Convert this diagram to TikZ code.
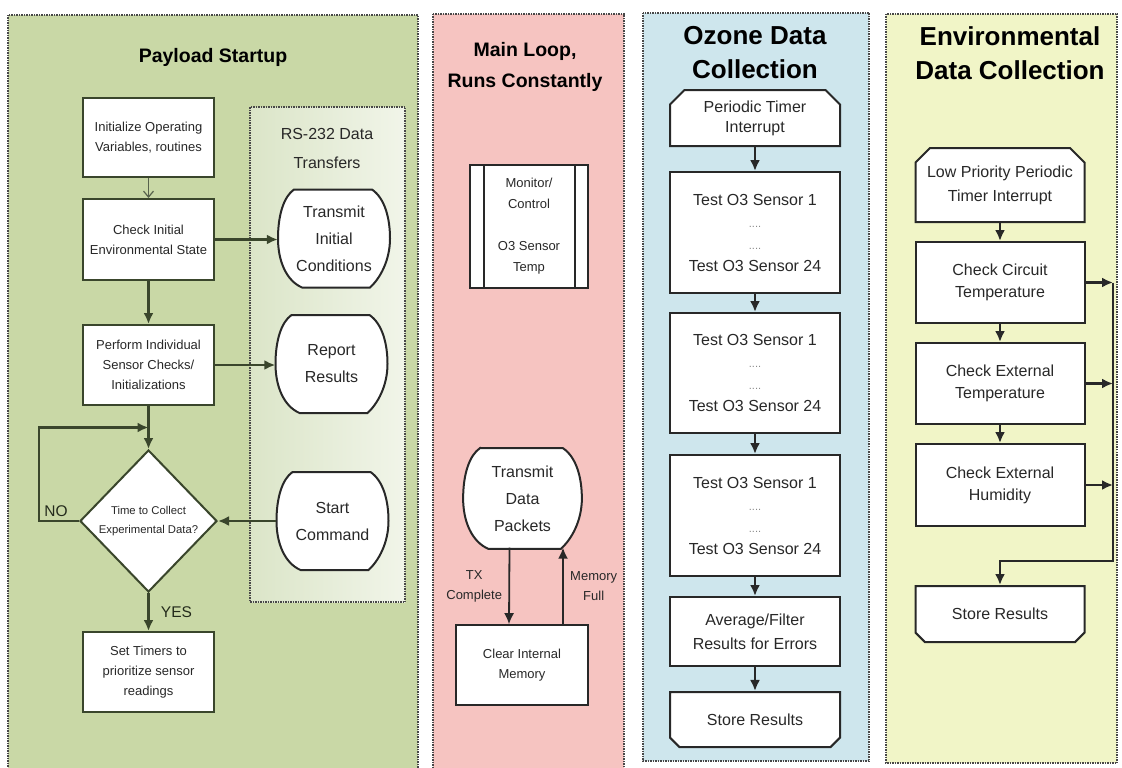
\documentclass[tikz,border=0pt]{standalone}
\usepackage{fontspec}
\setmainfont{Liberation Sans}
\usepackage{xcolor}
\usetikzlibrary{arrows.meta, shapes.geometric, shapes.misc, calc}

\definecolor{panelgreen}{RGB}{201,216,166}
\definecolor{panelpink}{RGB}{246,196,193}
\definecolor{panelblue}{RGB}{206,230,237}
\definecolor{panelyellow}{RGB}{241,245,199}
\definecolor{rsleft}{RGB}{219,229,200}
\definecolor{rsright}{RGB}{241,245,233}
\definecolor{olive}{RGB}{58,70,44}
\definecolor{ink}{RGB}{40,40,40}

\newcommand{\dotsrow}{{\fontsize{11}{22}\selectfont\color{ink!55}....}}

\tikzset{
    panel/.style={draw=ink!85, line width=1.3pt, dash pattern=on 1.5pt off 1pt},
    title/.style={align=center, text=black, font=\bfseries\fontsize{19.5}{31}\selectfont},
    bigtitle/.style={align=center, text=black, font=\bfseries\fontsize{26}{34}\selectfont},
    box/.style={draw=ink, line width=2pt, fill=white, align=center, inner sep=0pt, text=ink},
    greenbox/.style={box, draw=olive, minimum width=131pt, minimum height=80pt, font=\fontsize{13}{20}\selectfont},
    bluebox/.style={box, minimum width=170pt, font=\fontsize{16}{22}\selectfont},
    yellowbox/.style={box, minimum width=169pt, font=\fontsize{16}{22}\selectfont},
    toptrim/.style={chamfered rectangle, chamfered rectangle corners={north west,north east}, chamfered rectangle xsep=11pt},
    bottomtrim/.style={chamfered rectangle, chamfered rectangle corners={south west,south east}, chamfered rectangle xsep=11pt},
    disptext/.style={minimum width=112pt, minimum height=98pt, inner sep=0pt, align=center, text=ink, font=\fontsize{16}{27}\selectfont},
    arr/.style={draw=ink, line width=2.2pt, ->},
    greenarr/.style={arr, draw=olive},
    lbl/.style={text=ink, align=center, font=\fontsize{13}{20}\selectfont},
    pics/dispshape/.style={code={
        \draw[line width=2pt, draw=ink, fill=white] (-40,-49) -- (38,-49)
            .. controls (51,-40) and (56,-20) .. (56,0)
            .. controls (56,22) and (46,40) .. (36,49) -- (-32,49)
            .. controls (-48,42) and (-56,22) .. (-56,0)
            .. controls (-56,-24) and (-50,-42) .. cycle;
        \node[disptext] (-n) at (0,0) {#1};
    }}
}

\begin{document}
\begin{tikzpicture}[x=1pt, y=-1pt, >={Latex[length=11pt,width=10pt]}]
    \useasboundingbox (0,0) rectangle (1122,768);
    \clip (0,0) rectangle (1122,768);
    \fill[white] (0,0) rectangle (1122,768);

    % Panels
    \draw[panel, fill=panelgreen] (8,15) rectangle (418,790);
    \draw[panel, fill=panelpink] (433,14) rectangle (624,790);
    \draw[panel, fill=panelblue] (643,13) rectangle (869,761);
    \draw[panel, fill=panelyellow] (886,14) rectangle (1117,763);
    \draw[panel, left color=rsleft, right color=rsright] (250,107) rectangle (405,602);

    % Titles
    \node[title] (ps) at (213,57) {Payload Startup};
    \node[align=center, text=ink, font=\fontsize{16}{29}\selectfont] (rs) at (327,148) {RS-232 Data\\Transfers};
    \node[title] (ml) at (525,67) {Main Loop,\\Runs Constantly};
    \node[bigtitle] (oz) at (755,53) {Ozone Data\\Collection};
    \node[bigtitle] (en) at (1010,53) {Environmental\\Data Collection};

    % Payload startup
    \node[greenbox, minimum height=79pt] (init) at (148.5,137.5) {Initialize Operating\\Variables, routines};
    \node[greenbox, minimum height=81pt] (check) at (148.5,239.5) {Check Initial\\Environmental State};
    \node[greenbox] (perform) at (148.5,365) {Perform Individual\\Sensor Checks/\\Initializations};
    \node[diamond, box, draw=olive, aspect=1, minimum width=137pt, minimum height=142pt,
        font=\fontsize{11.3}{19}\selectfont] (dia) at (148.5,521) {Time to Collect\\Experimental Data?};
    \node[greenbox] (set) at (148.5,672) {Set Timers to\\prioritize sensor\\readings};

    \pic (tic) at (334,238.5) {dispshape={Transmit\\Initial\\Conditions}};
    \pic (rr) at (331.5,364) {dispshape={Report\\Results}};
    \pic (sc) at (332.5,521) {dispshape={Start\\Command}};

    \coordinate (noin) at ($(perform.south)!0.5!(dia.north)$);
    \draw[olive!85, line width=1.2pt, -{Straight Barb[length=6pt,width=10pt]}] (init) -- (check);
    \draw[greenarr] (check) -- (perform);
    \draw[greenarr] (perform) -- (dia);
    \draw[greenarr] (check.east) -- (check.east -| tic-n.west);
    \draw[greenarr] (perform.east) -- (perform.east -| rr-n.west);
    \draw[greenarr] (sc-n.west) -- (sc-n.west -| dia.east);
    \draw[greenarr] (dia.west) -- node[above, xshift=-3pt, lbl, text=olive!60!black, font=\fontsize{15.5}{18}\selectfont] {NO} ++(-40,0) |- (noin);
    \draw[greenarr] (dia) -- node[right=8pt, lbl, text=olive!60!black, font=\fontsize{15.5}{18}\selectfont] {YES} (set);

    % Main loop
    \node[box, line width=1.6pt, minimum width=118pt, minimum height=123pt, font=\fontsize{13}{21}\selectfont] (mon) at (529,226.5)
        {Monitor/\\Control\\[21pt]O3 Sensor\\Temp};
    \draw[ink, line width=1.6pt] ([xshift=15pt]mon.north west) -- ([xshift=15pt]mon.south west);
    \draw[ink, line width=1.6pt] ([xshift=-14pt]mon.north east) -- ([xshift=-14pt]mon.south east);

    \pic[xscale=1.06, yscale=1.03] (tdp) at (522.5,498.5) {dispshape={Transmit\\Data\\Packets}};
    \node[box, line width=1.6pt, minimum width=132pt, minimum height=80pt, font=\fontsize{13}{20}\selectfont] (clr) at (522,665) {Clear Internal\\Memory};

    \draw[arr, line width=1.8pt] ([xshift=-13pt]tdp-n.south) -- node[left=3pt, lbl] {TX\\Complete} ([xshift=-13pt]clr.north);
    \draw[arr, line width=1.8pt] ([xshift=41pt]clr.north) -- node[right=3pt, lbl] {Memory\\Full} ([xshift=41pt]clr.north |- tdp-n.south);

    % Ozone data collection
    \node[bluebox, toptrim, minimum height=56pt, font=\fontsize{16}{20}\selectfont] (ptimer) at (755,118) {Periodic Timer\\Interrupt};
    \node[bluebox, minimum height=121pt] (t1) at (755,232.5) {Test O3 Sensor 1\\\dotsrow\\\dotsrow\\Test O3 Sensor 24};
    \node[bluebox, minimum height=120pt] (t2) at (755,373) {Test O3 Sensor 1\\\dotsrow\\\dotsrow\\Test O3 Sensor 24};
    \node[bluebox, minimum height=121pt] (t3) at (755,515.5) {Test O3 Sensor 1\\\dotsrow\\\dotsrow\\Test O3 Sensor 24};
    \node[bluebox, minimum height=69pt, font=\fontsize{16}{24}\selectfont] (avg) at (755,631.5) {Average/Filter\\Results for Errors};
    \node[bluebox, bottomtrim, minimum height=55pt] (store) at (755,719.5) {Store Results};
    \foreach \a/\b in {ptimer/t1, t1/t2, t2/t3, t3/avg, avg/store}
        \draw[arr] (\a) -- (\b);

    % Environmental data collection
    \node[yellowbox, toptrim, minimum height=74pt, font=\fontsize{16}{24}\selectfont] (lowp) at (1000,185) {Low Priority Periodic\\Timer Interrupt};
    \node[yellowbox, minimum height=81pt] (circ) at (1000,282.5) {Check Circuit\\Temperature};
    \node[yellowbox, minimum height=81pt] (ext) at (1000,383.5) {Check External\\Temperature};
    \node[yellowbox, minimum height=82pt] (hum) at (1000,485) {Check External\\Humidity};
    \node[yellowbox, bottomtrim, minimum height=56pt] (estore) at (1000,614) {Store Results};
    \coordinate (bus) at (1113,561);
    \foreach \a/\b in {lowp/circ, circ/ext, ext/hum}
        \draw[arr] (\a) -- (\b);
    \foreach \n in {circ, ext, hum}
        \draw[arr] (\n.east) -- (\n.east -| bus);
    \draw[arr] (circ.east -| bus) -- (bus) -| (estore.north);
\end{tikzpicture}
\end{document}
